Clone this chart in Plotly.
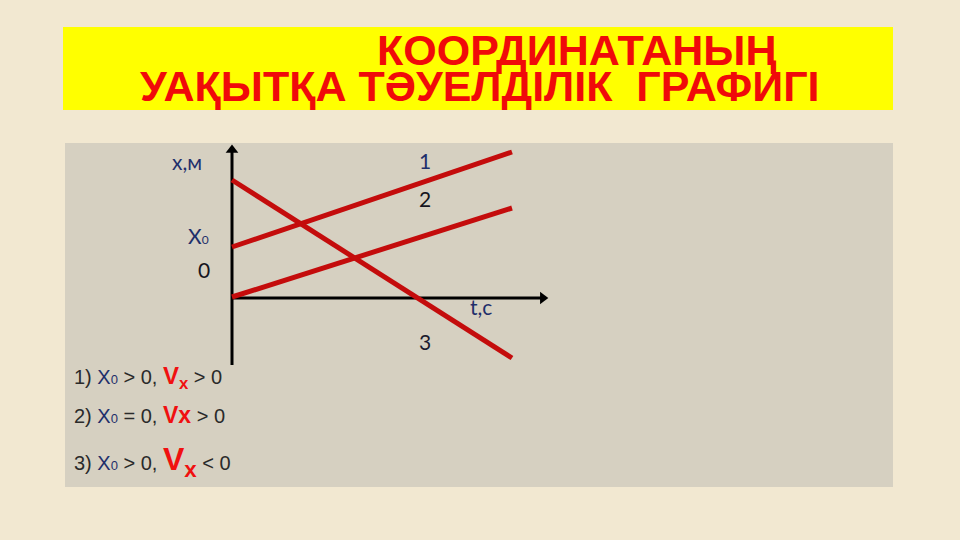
"""
Координатаның уақытқа тәуелділік графигі - slide recreation in Plotly.
"""

import plotly.graph_objects as go

# time axis values (t, c) for each line's end points
t_points = [0, 10]

# coordinate values x (m) at the start and end of each line
line1_x = [5.1, 14.6]
line2_x = [0.1, 9.0]
line3_x = [11.8, -6.0]

line_names = ['1', '2', '3']
line_label_y = [13.8, 10.0, -4.3]
line_label_colors = ['#1F2F6B', '#151520', '#1A1A2E']

# axis extents
t_axis_end = 11.4
x_axis_top = 15.6
x_axis_bottom = -6.7

# condition captions under the chart
X0 = "<span style='color:#1F2F6B'>Х<span style='font-size:13px'>0</span></span>"
conditions = [
    f"1) {X0} > 0, <span style='color:#F01010;font-size:24px'><b>V</b><sub><b>x</b></sub></span> > 0",
    f"2) {X0} = 0, <span style='color:#F01010;font-size:23px'><b>Vx</b></span> > 0",
    f"3) {X0} > 0, <span style='color:#F01010;font-size:32px'><b>V</b><sub><b>x</b></sub></span> < 0",
]
condition_y = [377, 415, 461]

RED = '#C40C0C'
NAVY = '#1F2F6B'
W, H = 960, 540

fig = go.Figure()

# axes: shafts plus triangle tips
fig.add_trace(go.Scatter(
    x=[0, t_axis_end - 0.3], y=[0, 0], mode='lines',
    line=dict(color='black', width=3), hoverinfo='skip', showlegend=False
))
fig.add_trace(go.Scatter(
    x=[0, 0], y=[x_axis_bottom, x_axis_top - 0.8], mode='lines',
    line=dict(color='black', width=3), hoverinfo='skip', showlegend=False
))
fig.add_trace(go.Scatter(
    x=[t_axis_end - 0.3], y=[0], mode='markers',
    marker=dict(symbol='triangle-right', size=11, color='black'),
    hoverinfo='skip', showlegend=False
))
fig.add_trace(go.Scatter(
    x=[0], y=[x_axis_top - 0.8], mode='markers',
    marker=dict(symbol='triangle-up', size=11, color='black'),
    hoverinfo='skip', showlegend=False
))

for xs in (line1_x, line2_x, line3_x):
    fig.add_trace(go.Scatter(
        x=t_points, y=xs, mode='lines',
        line=dict(color=RED, width=5),
        hoverinfo='skip', showlegend=False
    ))

label_font = dict(family='Lato, Open Sans, sans-serif', size=21, color=NAVY)
for name, ly, col in zip(line_names, line_label_y, line_label_colors):
    fig.add_annotation(x=6.9, y=ly, text=name, showarrow=False,
                       font=dict(label_font, color=col))

fig.add_annotation(x=-1.6, y=13.7, text='x,м', showarrow=False, font=label_font)
fig.add_annotation(x=-1.2, y=6.3, text="Х<span style='font-size:12px'>0</span>",
                   showarrow=False, font=label_font)
fig.add_annotation(x=-1.0, y=2.9, text='0', showarrow=False,
                   font=dict(label_font, color='#151520'))
fig.add_annotation(x=8.9, y=-0.8, text='t,с', showarrow=False, font=label_font)

for txt, py in zip(conditions, condition_y):
    fig.add_annotation(x=72 / W, y=1 - py / H, xref='paper', yref='paper',
                       xanchor='left', yanchor='middle', text=txt, showarrow=False,
                       font=dict(family='Liberation Sans, Arial', size=20, color='#2A2A2A'))

# title
title_font = dict(family='Liberation Sans, Arial', size=43, color='#F00A0A')
fig.add_annotation(x=576 / W, y=1 - 50 / H, xref='paper', yref='paper',
                   xanchor='center', yanchor='middle',
                   text='<b>КООРДИНАТАНЫҢ</b>', showarrow=False, font=title_font)
fig.add_annotation(x=480 / W, y=1 - 86 / H, xref='paper', yref='paper',
                   xanchor='center', yanchor='middle',
                   text='<b>УАҚЫТҚА ТӘУЕЛДІЛІК  ГРАФИГІ</b>', showarrow=False,
                   font=title_font)

fig.update_layout(
    width=W, height=H,
    margin=dict(l=0, r=0, t=0, b=0),
    paper_bgcolor='#F2E8D1',
    plot_bgcolor='rgba(0,0,0,0)',
    xaxis=dict(range=[-232 / 28, (W - 232) / 28], visible=False, fixedrange=True),
    yaxis=dict(range=[(298 - H) / 10, 298 / 10], visible=False, fixedrange=True),
    shapes=[
        dict(type='rect', xref='paper', yref='paper', layer='below',
             x0=63 / W, x1=893 / W, y0=1 - 110 / H, y1=1 - 27 / H,
             fillcolor='#FFFF00', line=dict(width=0)),
        dict(type='rect', xref='paper', yref='paper', layer='below',
             x0=65 / W, x1=893 / W, y0=1 - 487 / H, y1=1 - 143 / H,
             fillcolor='#D6D0C1', line=dict(width=0)),
    ],
)

fig.write_html("out.html", config={'displayModeBar': False},
               post_script="document.body.style.margin='0';")
